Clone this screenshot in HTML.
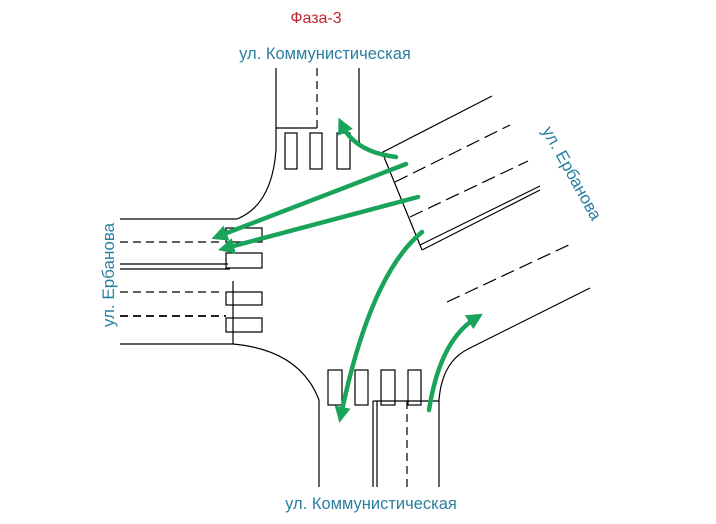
<!DOCTYPE html>
<html><head><meta charset="utf-8"><style>
html,body{margin:0;padding:0;background:#fff;width:716px;height:524px;overflow:hidden}
svg{display:block}
text{font-family:"Liberation Sans","DejaVu Sans",sans-serif}
</style></head><body>
<svg width="716" height="524" viewBox="0 0 716 524" xmlns="http://www.w3.org/2000/svg">
<defs>
<marker id="ah" viewBox="0 0 10 10" refX="5" refY="5" markerWidth="3.6" markerHeight="3.6" orient="auto"><path d="M0,0 L10,5 L0,10 z" fill="#1aa35a"/></marker>
</defs>
<text x="316" y="23" fill="#c0262d" font-size="16" text-anchor="middle">Фаза-3</text>
<text x="325" y="59" fill="#2a7fa0" font-size="16.5" text-anchor="middle">ул. Коммунистическая</text>
<text x="371" y="509" fill="#2a7fa0" font-size="16.5" text-anchor="middle">ул. Коммунистическая</text>
<text transform="translate(114,275) rotate(-90)" fill="#2a7fa0" font-size="17" text-anchor="middle">ул. Ербанова</text>
<text transform="translate(567,176) rotate(61)" fill="#2a7fa0" font-size="17" text-anchor="middle">ул. Ербанова</text>
<g fill="none" stroke="#000" stroke-width="1.2">
<path d="M276,68 V150 Q272,205 237,219 H120"/>
<path d="M359,68 V140 Q360,152 381,153 L492,96"/>
<path d="M276,128 H317"/>
<path d="M317,68 V128" stroke-dasharray="8,5"/>
<path d="M120,242 H220" stroke-dasharray="8,5"/>
<path d="M120,264 H228 M120,269 H230"/>
<path d="M120,292 H222" stroke-dasharray="8,5"/>
<path d="M120,316 H226" stroke-dasharray="8,5" stroke-width="1.8"/>
<path d="M233,281 V344"/>
<path d="M120,344 H233 Q300,350 319,400 V487"/>
<path d="M382,152 L422,250"/>
<path d="M395,182 L510,125" stroke-dasharray="14,6"/>
<path d="M410,217 L528,161" stroke-dasharray="14,6"/>
<path d="M422,250 L540,190 M420,245 L540,186"/>
<path d="M447,302 L573,243" stroke-dasharray="14,6"/>
<path d="M590,288 L468,349 Q442,362 439,400 V487"/>
<path d="M373,401 H439"/>
<path d="M373,401 V487 M377,401 V487"/>
<path d="M407,401 V487" stroke-dasharray="8,5"/>
<rect x="285" y="133" width="12" height="36"/><rect x="310" y="133" width="12" height="36"/><rect x="337" y="133" width="13" height="36"/>
<rect x="226" y="228" width="36" height="14"/><rect x="226" y="253" width="36" height="15"/><rect x="226" y="292" width="36" height="13"/><rect x="226" y="318" width="36" height="14"/>
<rect x="328" y="370" width="14" height="35"/><rect x="355" y="370" width="13" height="35"/><rect x="381" y="370" width="14" height="35"/><rect x="408" y="370" width="13" height="35"/>
</g>
<g fill="none" stroke="#1aa35a" stroke-width="4.5" stroke-linecap="round" marker-end="url(#ah)">
<path d="M396,157 Q355,152 342,125"/>
<path d="M406,164 L219,236"/>
<path d="M418,197 L226,248"/>
<path d="M422,232 Q370,275 341,415"/>
<path d="M429,410 Q440,340 476,318"/>
</g>
</svg>
</body></html>
